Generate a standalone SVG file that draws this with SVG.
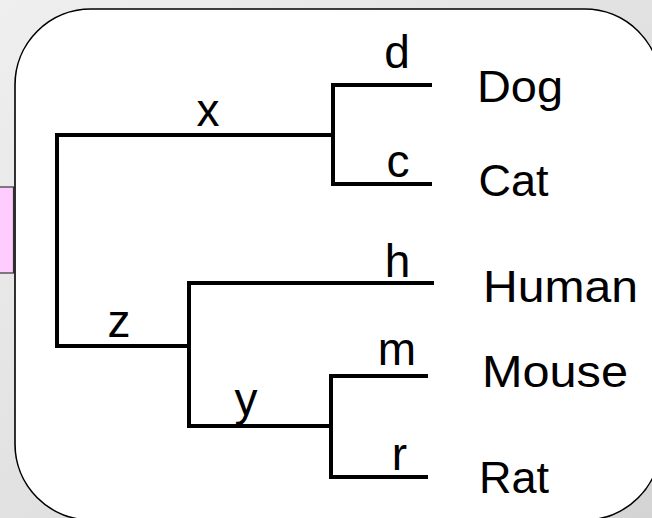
<svg xmlns="http://www.w3.org/2000/svg" width="652" height="518" viewBox="0 0 652 518">
  <defs>
    <linearGradient id="bg" x1="0" y1="0" x2="1" y2="1">
      <stop offset="0" stop-color="#efefef"/>
      <stop offset="1" stop-color="#d4d4d4"/>
    </linearGradient>
  </defs>
  <style>
    .frame { fill: #ffffff; stroke: #000000; stroke-width: 1.6; }
    .tab { fill: #ffccff; stroke: #333333; stroke-width: 1.2; }
    .branch { fill: none; stroke: #000000; stroke-width: 4; stroke-linejoin: miter; stroke-linecap: butt; }
    text { font-family: "Liberation Sans", Arial, sans-serif; fill: #000000; }
    .leaf { font-size: 45px; }
    .edge { font-size: 46px; text-anchor: middle; }
  </style>

  <!-- backdrop -->
  <rect x="0" y="0" width="652" height="518" fill="url(#bg)"/>

  <!-- side tab peeking out behind the panel -->
  <rect id="tab" class="tab" x="-6" y="187" width="19.5" height="86"/>

  <!-- rounded panel holding the tree -->
  <rect id="panel" class="frame" x="15" y="9" width="645.5" height="511" rx="76" ry="76"/>

  <!-- tree branches -->
  <g id="connectors">
    <path class="branch" d="M 333 135 H 57 V 346 H 189"/>
    <path class="branch" d="M 432 85 H 333 V 184 H 432"/>
    <path class="branch" d="M 434 283 H 189 V 426 H 331"/>
    <path class="branch" d="M 428 376 H 331 V 477 H 428"/>
  </g>

  <!-- branch labels -->
  <g id="branch-x"><text class="edge" x="208" y="126">x</text></g>
  <g id="branch-z"><text class="edge" x="119" y="337">z</text></g>
  <g id="branch-y"><text class="edge" x="246" y="415">y</text></g>
  <g id="branch-d"><text class="edge" x="397" y="68">d</text></g>
  <g id="branch-c"><text class="edge" x="398" y="177">c</text></g>
  <g id="branch-h"><text class="edge" x="397.5" y="277">h</text></g>
  <g id="branch-m"><text class="edge" x="397" y="365">m</text></g>
  <g id="branch-r"><text class="edge" x="399.5" y="470">r</text></g>

  <!-- leaves -->
  <g id="leaf-dog"><text class="leaf" x="477" y="102" font-size="44" textLength="86" lengthAdjust="spacingAndGlyphs">Dog</text></g>
  <g id="leaf-cat"><text class="leaf" x="478.5" y="196" font-size="44">Cat</text></g>
  <g id="leaf-human"><text class="leaf" x="483" y="302" font-size="35" textLength="155" lengthAdjust="spacingAndGlyphs">Human</text></g>
  <g id="leaf-mouse"><text class="leaf" x="482" y="387" font-size="48" textLength="146" lengthAdjust="spacingAndGlyphs">Mouse</text></g>
  <g id="leaf-rat"><text class="leaf" x="479" y="493">Rat</text></g>
</svg>
